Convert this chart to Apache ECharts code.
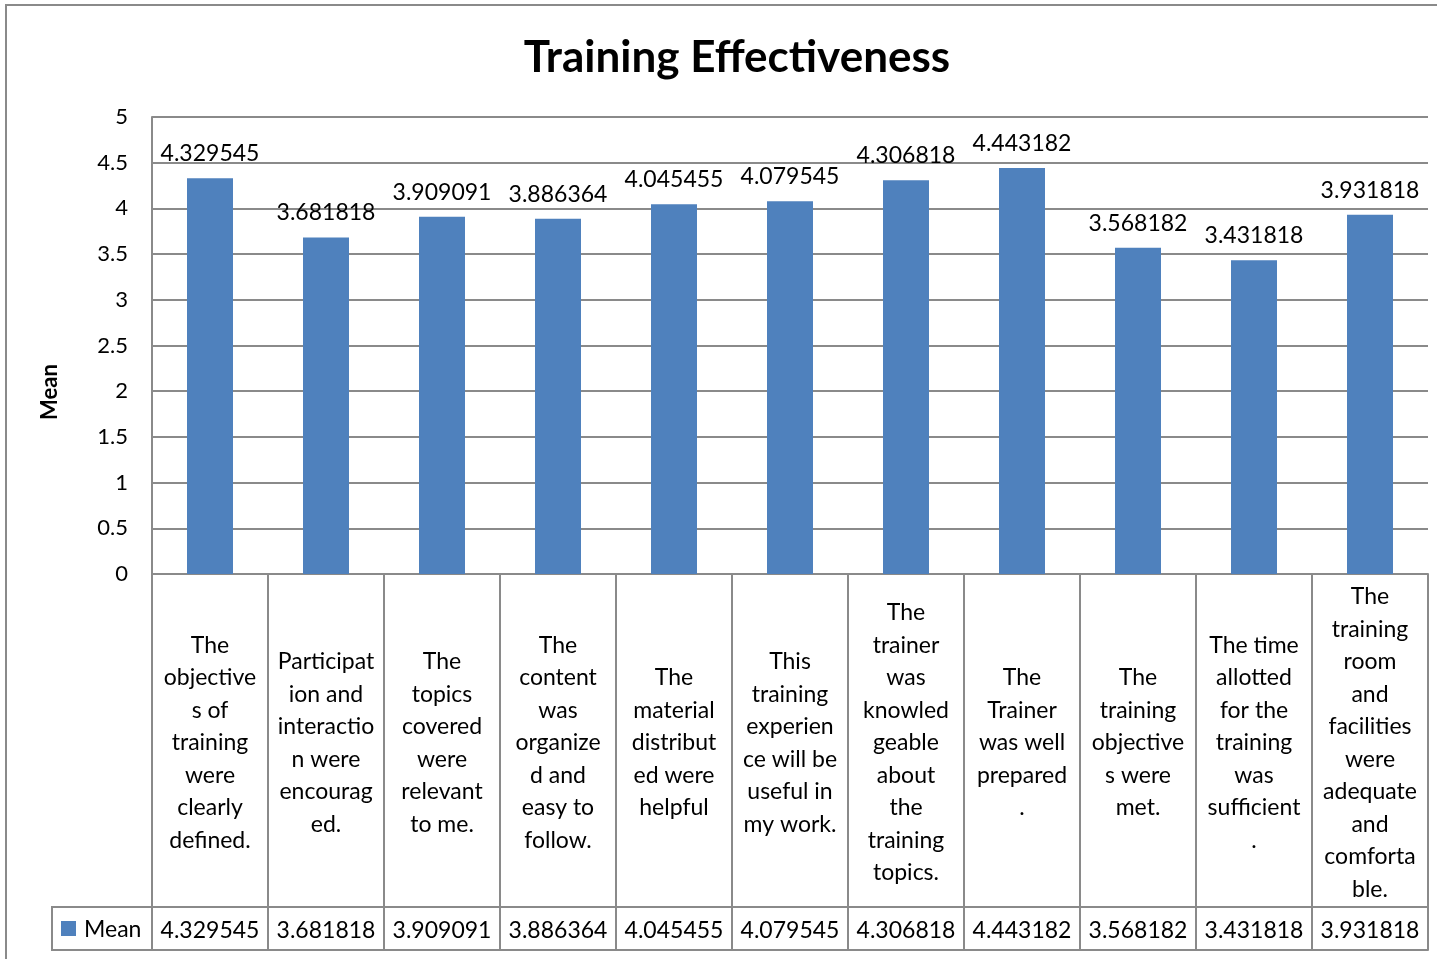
<!DOCTYPE html>
<html>
<head>
<meta charset="utf-8">
<script src="https://cdn.jsdelivr.net/npm/echarts@6/dist/echarts.min.js"></script>
<style>
  html, body { margin: 0; padding: 0; background: #fff; }
  #main { width: 1437px; height: 959px; }
</style>
</head>
<body>
<div id="main"></div>
<script>
// categories (wrapped like the excel data table)
var categories = [
  "The\nobjective\ns of\ntraining\nwere\nclearly\ndefined.",
  "Participat\nion and\ninteractio\nn were\nencourag\ned.",
  "The\ntopics\ncovered\nwere\nrelevant\nto me.",
  "The\ncontent\nwas\norganize\nd and\neasy to\nfollow.",
  "The\nmaterial\ndistribut\ned were\nhelpful",
  "This\ntraining\nexperien\nce will be\nuseful in\nmy work.",
  "The\ntrainer\nwas\nknowled\ngeable\nabout\nthe\ntraining\ntopics.",
  "The\nTrainer\nwas well\nprepared\n.",
  "The\ntraining\nobjective\ns were\nmet.",
  "The time\nallotted\nfor the\ntraining\nwas\nsufficient\n.",
  "The\ntraining\nroom\nand\nfacilities\nwere\nadequate\nand\ncomforta\nble."
];
var meanValues = [4.329545, 3.681818, 3.909091, 3.886364, 4.045455, 4.079545,
                  4.306818, 4.443182, 3.568182, 3.431818, 3.931818];
var seriesName = "Mean";

var FONT = "Lato";
var GRAY = "#8a8a8a";

var chart = echarts.init(document.getElementById("main"));
var option = {
  backgroundColor: "#fff",
  animation: false,
  textStyle: { fontFamily: FONT },
  title: {
    text: "Training Effectiveness",
    left: 732,
    top: 31,
    textAlign: "center",
    textStyle: { fontFamily: FONT, fontSize: 44, fontWeight: "bold", color: "#000" }
  },
  grid: { left: 152, right: 9, top: 117, bottom: 385, containLabel: false },
  xAxis: [
    {
      // category labels + table column lines
      type: "category",
      data: categories,
      position: "bottom",
      axisLine: { show: true, lineStyle: { color: GRAY, width: 2 } },
      axisTick: { show: true, interval: 0, length: 376, lineStyle: { color: GRAY, width: 2 } },
      axisLabel: {
        interval: 0, margin: 169, verticalAlign: "middle", align: "center",
        fontFamily: FONT, fontSize: 23, lineHeight: 32.5, color: "#000"
      }
    },
    {
      // data table value row
      type: "category",
      data: categories,
      position: "bottom",
      offset: 333,
      axisLine: { show: true, lineStyle: { color: GRAY, width: 2 } },
      axisTick: { show: false },
      axisLabel: {
        interval: 0, margin: 24, verticalAlign: "middle",
        fontFamily: FONT, fontSize: 23, color: "#000",
        formatter: function (v, i) { return String(meanValues[i]); }
      }
    },
    {
      type: "category",
      data: categories,
      position: "bottom",
      offset: 376,
      axisLine: { show: true, lineStyle: { color: GRAY, width: 2 } },
      axisTick: { show: false },
      axisLabel: { show: false }
    }
  ],
  yAxis: {
    type: "value",
    min: 0, max: 5, interval: 0.5,
    axisLine: { show: true, lineStyle: { color: GRAY, width: 2 } },
    axisTick: { show: false },
    axisLabel: { fontFamily: FONT, fontSize: 22, color: "#000", margin: 24 },
    splitLine: { show: true, lineStyle: { color: GRAY, width: 2 } }
  },
  series: [{
    name: seriesName,
    type: "bar",
    data: meanValues,
    barWidth: 46,
    itemStyle: { color: "#4f81bd" },
    label: {
      show: true, position: "top", distance: 13,
      fontFamily: FONT, fontSize: 23, color: "#000",
      formatter: function (p) { return String(p.value); }
    }
  }],
  graphic: [
    {
      type: "rect", silent: true,
      shape: { x: 6, y: 5, width: 1450, height: 970 },
      style: { fill: null, stroke: GRAY, lineWidth: 2 }
    },
    {
      type: "rect", silent: true,
      shape: { x: 52, y: 907, width: 100, height: 43 },
      style: { fill: null, stroke: GRAY, lineWidth: 2 }
    },
    {
      type: "rect", silent: true,
      shape: { x: 61, y: 921, width: 15, height: 15 },
      style: { fill: "#4f81bd" }
    },
    {
      type: "text", silent: true, x: 84, y: 930,
      style: { text: seriesName, fontFamily: FONT, fontSize: 23, fill: "#000", textVerticalAlign: "middle" }
    },
    {
      type: "text", silent: true, x: 50, y: 392, rotation: Math.PI / 2,
      style: { text: "Mean", fontFamily: FONT, fontSize: 22, fontWeight: "bold", fill: "#000",
               textAlign: "center", textVerticalAlign: "middle" }
    }
  ]
};
chart.setOption(option);
</script>
</body>
</html>
